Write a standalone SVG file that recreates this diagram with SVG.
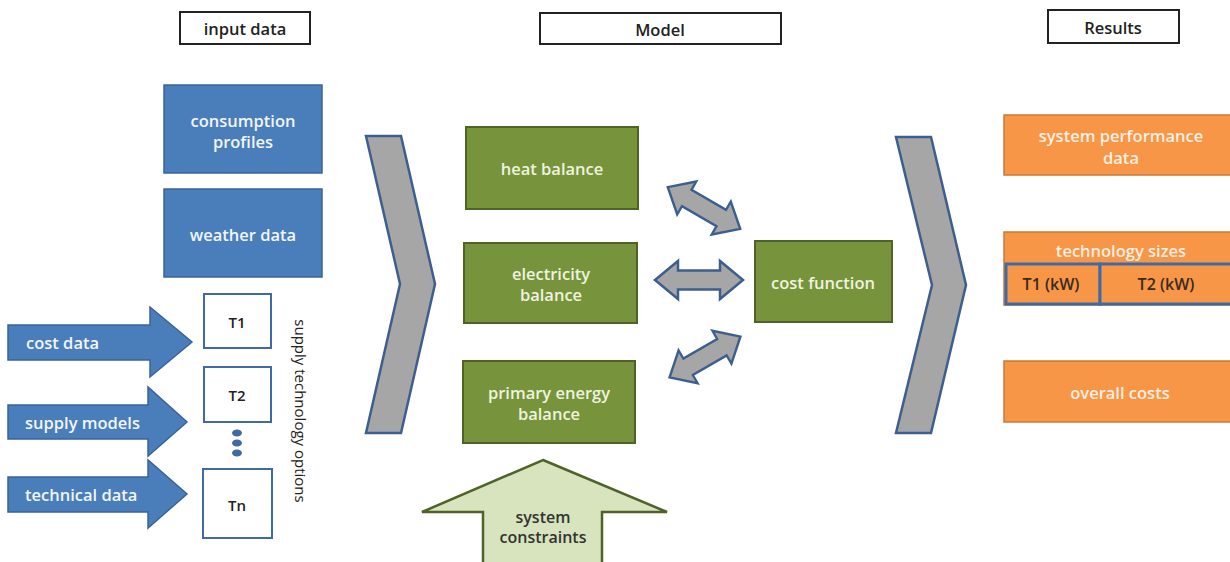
<svg xmlns="http://www.w3.org/2000/svg" width="1230" height="562" viewBox="0 0 1230 562">
<style>
text{font-family:"Open Sans","Liberation Sans",sans-serif;text-anchor:middle;dominant-baseline:central}
.hdr rect{fill:#fff;stroke:#222;stroke-width:2}
.hdr text{font-size:16.5px;fill:#222;font-weight:600}
.blue{fill:#4a7ebb;stroke:#3a639a;stroke-width:1.5}
.bt{fill:#f2f5fa;font-size:16.5px;font-weight:600}
.green{fill:#77933c;stroke:#4f6228;stroke-width:2}
.gt{fill:#eef3df;font-size:16.5px;font-weight:600}
.orange{fill:#f79646;stroke:#c77a3a;stroke-width:1.5}
.ot{fill:#fbeee2;font-size:16.5px;font-weight:600}
.cell{fill:#f79646;stroke:#3f6aa5;stroke-width:3}
.ct{fill:#3a2a20;font-size:16px;font-weight:600}
.tbox{fill:#fff;stroke:#3f6aa5;stroke-width:2}
.tt{fill:#222;font-size:15px;font-weight:600}
.chev{fill:#a6a6a6;stroke:#3d5f8f;stroke-width:2.5;stroke-linejoin:miter}
.darr{fill:#a6a6a6;stroke:#3d5f8f;stroke-width:2.5}
.barr{fill:#4a7ebb;stroke:#3a639a;stroke-width:1.5}
.garr{fill:#d7e4bd;stroke:#4f6228;stroke-width:2.5}
.dot{fill:#3f6aa5}
</style>
<defs>
<polygon id="dbl" points="-44,0 -21,-19 -21,-9.5 21,-9.5 21,-19 44,0 21,19 21,9.5 -21,9.5 -21,19"/>
</defs>

<g id="header-input" class="hdr"><rect x="180" y="12" width="130" height="32"/><text x="245" y="28">input data</text></g>
<g id="header-model" class="hdr"><rect x="540" y="13" width="241" height="31"/><text x="660" y="29">Model</text></g>
<g id="header-results" class="hdr"><rect x="1048" y="10" width="131" height="33"/><text x="1113" y="27">Results</text></g>

<g id="consumption-profiles"><rect class="blue" x="164" y="85" width="158" height="88"/><text class="bt" x="243" y="120">consumption</text><text class="bt" x="243" y="141">profiles</text></g>
<g id="weather-data"><rect class="blue" x="164" y="189" width="158" height="88"/><text class="bt" x="243" y="234">weather data</text></g>

<g id="cost-data"><polygon class="barr" points="8,325 150,325 150,307 192,342 150,377 150,360 8,360"/><text class="bt" x="26" y="342" style="text-anchor:start">cost data</text></g>
<g id="supply-models"><polygon class="barr" points="8,405 148,405 148,387 187,422 148,456 148,439 8,439"/><text class="bt" x="25" y="422" style="text-anchor:start">supply models</text></g>
<g id="technical-data"><polygon class="barr" points="8,477 148,477 148,460 187,494 148,528 148,512 8,512"/><text class="bt" x="25" y="494" style="text-anchor:start">technical data</text></g>

<g id="t1"><rect class="tbox" x="204" y="294" width="67" height="54"/><text class="tt" x="237" y="322">T1</text></g>
<g id="t2"><rect class="tbox" x="204" y="367" width="67" height="55"/><text class="tt" x="237" y="395">T2</text></g>
<g id="dots"><ellipse class="dot" cx="237" cy="433" rx="5" ry="3.5"/><ellipse class="dot" cx="237" cy="443" rx="5" ry="3.5"/><ellipse class="dot" cx="237" cy="453" rx="5" ry="3.5"/></g>
<g id="tn"><rect class="tbox" x="203" y="469" width="69" height="69"/><text class="tt" x="237" y="505">Tn</text></g>
<g id="supply-technology-options"><text x="301" y="411" transform="rotate(90 301 411)" style="font-size:15px;fill:#222">supply technology options</text></g>

<g id="chevron-left"><polygon class="chev" points="366,136 401,136 435,284 401,433 366,433 400,284"/></g>

<g id="heat-balance"><rect class="green" x="466" y="127" width="172" height="82"/><text class="gt" x="552" y="168">heat balance</text></g>
<g id="electricity-balance"><rect class="green" x="464" y="243" width="173" height="80"/><text class="gt" x="551" y="273">electricity</text><text class="gt" x="551" y="294">balance</text></g>
<g id="primary-energy-balance"><rect class="green" x="463" y="361" width="172" height="82"/><text class="gt" x="549" y="392">primary energy</text><text class="gt" x="549" y="413">balance</text></g>
<g id="cost-function"><rect class="green" x="755" y="241" width="137" height="81"/><text class="gt" x="823" y="282">cost function</text></g>

<g id="system-constraints"><polygon class="garr" points="543,460 667,512 602,512 602,566 483,566 483,512 422,512"/><text x="543" y="517" style="font-size:16px;fill:#333;font-weight:600">system</text><text x="543" y="537" style="font-size:16px;fill:#333;font-weight:600">constraints</text></g>

<g id="connectors">
<use href="#dbl" class="darr" transform="translate(704,208) rotate(30) scale(0.95,1)"/>
<use href="#dbl" class="darr" transform="translate(699,280)"/>
<use href="#dbl" class="darr" transform="translate(705,357) rotate(-30) scale(0.93,1)"/>
</g>

<g id="chevron-right"><polygon class="chev" points="896,137 931,137 966,285 931,433 896,433 932,285"/></g>

<g id="system-performance-data"><rect class="orange" x="1004" y="115" width="236" height="60"/><text class="ot" x="1121" y="135">system performance</text><text class="ot" x="1121" y="157">data</text></g>
<g id="technology-sizes"><rect class="orange" x="1004" y="232" width="236" height="73"/><text class="ot" x="1121" y="250">technology sizes</text>
<rect class="cell" x="1006" y="264" width="94" height="40"/><rect class="cell" x="1100" y="264" width="140" height="40"/>
<text class="ct" x="1051" y="284">T1 (kW)</text><text class="ct" x="1166" y="284">T2 (kW)</text></g>
<g id="overall-costs"><rect class="orange" x="1004" y="361" width="236" height="61"/><text class="ot" x="1120" y="392">overall costs</text></g>
</svg>
